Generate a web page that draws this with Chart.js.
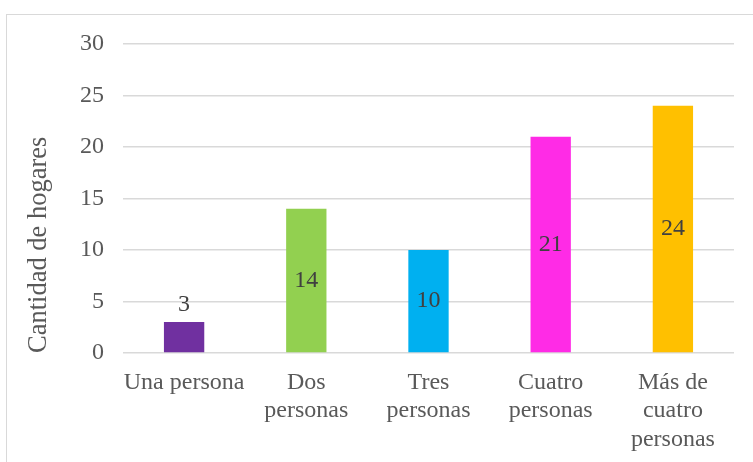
<!DOCTYPE html>
<html>
<head>
<meta charset="utf-8">
<script src="https://cdn.jsdelivr.net/npm/chart.js@4/dist/chart.umd.min.js"></script>
<style>
  html, body { margin: 0; padding: 0; background: #fff; overflow: hidden; }
  #frame { position: absolute; left: 6px; top: 14px; width: 780px; height: 480px; border: 1px solid #d9d9d9; }
  #wrap { position: absolute; left: 0; top: 0; width: 753px; height: 462px; }
</style>
</head>
<body>
<div id="frame"></div>
<div id="wrap"><canvas id="chart"></canvas></div>
<script>
const categories = [
  ['Una persona'],
  ['Dos', 'personas'],
  ['Tres', 'personas'],
  ['Cuatro', 'personas'],
  ['Más de', 'cuatro', 'personas']
];
const hogares = [3, 14, 10, 21, 24];
const barColors = ['#7030a0', '#92d050', '#00b0f0', '#ff2be6', '#ffc000'];
const yTicks = [0, 5, 10, 15, 20, 25, 30];

const textColor = '#595959';
const serif = '"Liberation Serif", "Times New Roman", serif';

// draws the value of each bar, in the middle or just above when the bar is short
const valueLabels = {
  id: 'valueLabels',
  afterDatasetsDraw(chart) {
    const ctx = chart.ctx;
    const meta = chart.getDatasetMeta(0);
    ctx.save();
    ctx.font = '24px ' + serif;
    ctx.fillStyle = '#404040';
    ctx.textAlign = 'center';
    ctx.textBaseline = 'middle';
    meta.data.forEach((bar, i) => {
      const h = bar.base - bar.y;
      const y = h < 36 ? bar.y - 17 : (bar.y + bar.base) / 2;
      ctx.fillText(String(hogares[i]), bar.x, y);
    });
    ctx.restore();
  }
};

new Chart(document.getElementById('chart'), {
  type: 'bar',
  data: {
    labels: categories,
    datasets: [{
      data: hogares,
      backgroundColor: barColors,
      barPercentage: 0.33,
      categoryPercentage: 1
    }]
  },
  options: {
    responsive: true,
    maintainAspectRatio: false,
    animation: false,
    layout: { padding: { top: 44, right: 19, left: 0, bottom: 0 } },
    plugins: {
      legend: { display: false },
      tooltip: { enabled: false }
    },
    scales: {
      x: {
        grid: { display: false, drawTicks: false },
        border: { display: false },
        ticks: {
          color: textColor,
          font: { family: serif, size: 24, lineHeight: 1.19 },
          padding: 15,
          maxRotation: 0,
          autoSkip: false
        },
        afterFit(scale) { scale.height = 462 - 353; }
      },
      y: {
        min: 0,
        max: 30,
        afterBuildTicks(scale) { scale.ticks = yTicks.map(v => ({ value: v })); },
        grid: { color: '#d9d9d9', lineWidth: 1.5, drawTicks: false },
        border: { display: false },
        ticks: {
          color: textColor,
          font: { family: serif, size: 24 },
          padding: 19
        },
        title: {
          display: true,
          text: 'Cantidad de hogares',
          align: 'start',
          color: textColor,
          font: { family: serif, size: 26.5 },
          padding: { top: 23, bottom: 0 }
        },
        afterFit(scale) { scale.width = 123; }
      }
    }
  },
  plugins: [valueLabels]
});
</script>
</body>
</html>
